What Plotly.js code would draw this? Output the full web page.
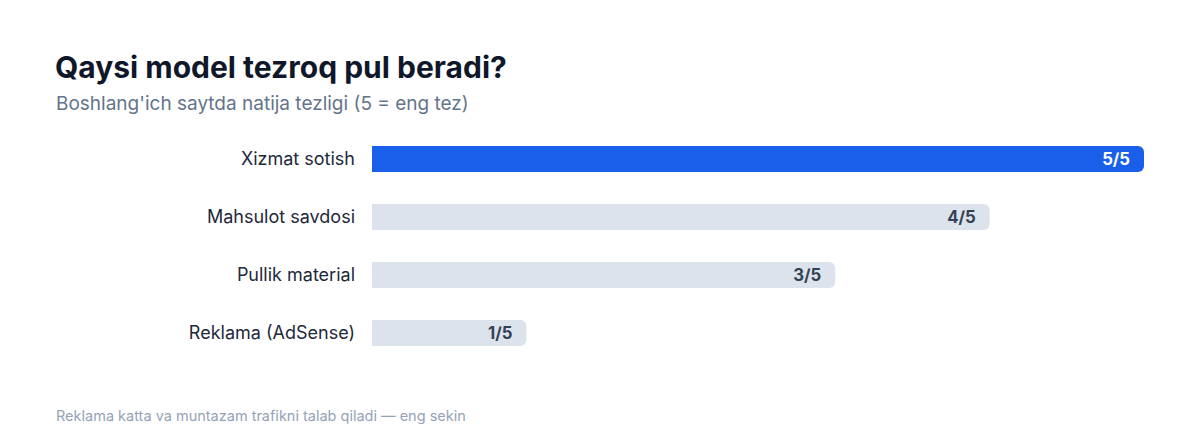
<!DOCTYPE html>
<html>
<head>
<meta charset="utf-8">
<script src="https://cdn.plot.ly/plotly-3.0.1.min.js"></script>
<style>
  html, body { margin: 0; padding: 0; background: #ffffff; }
  #chart { width: 1200px; height: 436px; }
</style>
</head>
<body>
<div id="chart"></div>
<script>
// Data
var models = ["Xizmat sotish", "Mahsulot savdosi", "Pullik material", "Reklama (AdSense)"];
var speed = [5, 4, 3, 1];
var maxScore = 5;

var barColors = speed.map(function (v, i) { return i === 0 ? "#1a5fea" : "#dde3ec"; });
var textColors = speed.map(function (v, i) { return i === 0 ? "#ffffff" : "#334155"; });

var chart = document.getElementById('chart');
Plotly.newPlot(
    chart, [{
        type: "bar",
        orientation: "h",
        y: models,
        x: speed,
        width: 0.45,
        marker: { color: barColors, line: { width: 0 } },
        text: speed.map(function (v) { return v + "/" + maxScore + "\u00a0\u00a0"; }),
        textposition: "inside",
        insidetextanchor: "end",
        textfont: { family: "Inter, sans-serif", size: 17.5, color: textColors, weight: 700 },
        hoverinfo: "skip",
        cliponaxis: false
    }],
    {
        width: 1200,
        height: 436,
        margin: { l: 372, r: 56, t: 130, b: 74 },
        paper_bgcolor: "#ffffff",
        plot_bgcolor: "#ffffff",
        barcornerradius: 6,
        showlegend: false,
        font: { family: "Inter, sans-serif", color: "#1e293b" },
        title: {
            text: "<b>Qaysi model tezroq pul beradi?</b>",
            font: { family: "Inter, sans-serif", size: 30, color: "#0f172a" },
            xref: "container", yref: "container",
            x: 55 / 1200, xanchor: "left",
            y: 1 - 67 / 436, yanchor: "middle"
        },
        xaxis: {
            range: [0, maxScore],
            visible: false,
            fixedrange: true
        },
        yaxis: {
            autorange: "reversed",
            showgrid: false,
            zeroline: false,
            showline: false,
            ticks: "",
            ticklabelstandoff: 16,
            tickfont: { family: "Inter, sans-serif", size: 18, color: "#1e293b" },
            fixedrange: true
        },
        annotations: [
            {
                text: "Boshlang'ich saytda natija tezligi (5 = eng tez)",
                xref: "paper", yref: "paper",
                x: (54 - 372) / 772, y: 1 + (130 - 103) / 232,
                xanchor: "left", yanchor: "middle",
                showarrow: false,
                font: { family: "Inter, sans-serif", size: 19, color: "#64748b" }
            },
            {
                text: "Reklama katta va muntazam trafikni talab qiladi — eng sekin",
                xref: "paper", yref: "paper",
                x: (54 - 372) / 772, y: -(416 - 362) / 232,
                xanchor: "left", yanchor: "middle",
                showarrow: false,
                font: { family: "Inter, sans-serif", size: 14.5, color: "#94a3b8" }
            }
        ]
    },
    { displayModeBar: false, staticPlot: true }
);
</script>
</body>
</html>
